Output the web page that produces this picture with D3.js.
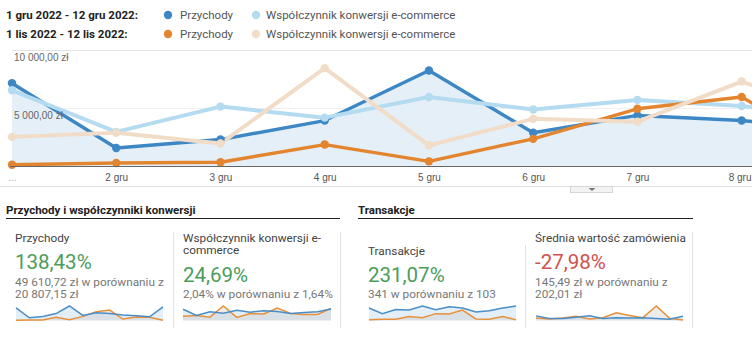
<!DOCTYPE html>
<html>
<head>
<meta charset="utf-8">
<script src="https://cdn.jsdelivr.net/npm/d3@7"></script>
<style>
  html, body { margin: 0; padding: 0; background: #fff; }
  svg { display: block; font-family: Roboto, "Liberation Sans", Arial, sans-serif; }
</style>
</head>
<body>
<svg id="chart" width="752" height="339"></svg>
<script>
// Daily values, 1–12 of the month
const dayLabels = ["...", "2 gru", "3 gru", "4 gru", "5 gru", "6 gru", "7 gru", "8 gru", "9 gru", "10 gru", "11 gru", "12 gru"];

// Revenue (zł)
const revenueDec = [7100, 1550, 2270, 3900, 8200, 2850, 4340, 3900, 3100, 2620, 2080, 7700];
const revenueNov = [110, 260, 320, 1840, 400, 2330, 4910, 5920, 800, 2000, 1800, 120];

// E-commerce conversion rate (%)
const convDec = [2.60, 1.17, 2.04, 1.66, 2.37, 1.94, 2.27, 2.06, 1.64, 1.87, 2.03, 2.66];
const convNov = [1.00, 1.14, 0.77, 3.36, 0.71, 1.62, 1.52, 2.90, 1.64, 1.41, 1.41, 2.81];

// Transactions
const transDec = [31, 17, 27, 26, 36, 27, 34, 31, 21, 24, 31, 36];
const transNov = [2, 3, 3, 10, 7, 17, 16, 26, 4, 3, 10, 2];

// Average order value (zł)
const aovDec = [230, 100, 100, 160, 230, 105, 135, 130, 140, 105, 60, 215];
const aovNov = [120, 75, 120, 210, 70, 135, 380, 250, 140, 720, 110, 20];

// Y axis ticks (left axis, revenue)
const revenueTicks = [5000, 10000];
const revenueTickLabels = ["5 000,00 zł", "10 000,00 zł"];

// Legend
const periodLabels = ["1 gru 2022 - 12 gru 2022:", "1 lis 2022 - 12 lis 2022:"];
const seriesNames = ["Przychody", "Współczynnik konwersji e-commerce"];

// Summary cards
const sectionTitles = ["Przychody i współczynniki konwersji", "Transakcje"];
const cardTitles = [["Przychody"], ["Współczynnik konwersji e-", "commerce"], ["Transakcje"], ["Średnia wartość zamówienia"]];
const cardChanges = ["138,43%", "24,69%", "231,07%", "-27,98%"];
const cardDetails = [["49 610,72 zł w porównaniu z", "20 807,15 zł"], ["2,04% w porównaniu z 1,64%"], ["341 w porównaniu z 103"], ["145,49 zł w porównaniu z", "202,01 zł"]];
const cardSeries = [[revenueDec, revenueNov], [convDec, convNov], [transDec, transNov], [aovDec, aovNov]];

const W = 752;
const C = {
  blue: "#3d87c4",
  lightBlue: "#b4dbf0",
  orange: "#e3852f",
  beige: "#f1dcc7",
  fill: "#e4eff8",
  green: "#4a9d5b",
  red: "#d2504f"
};

const svg = d3.select("#chart");
const idx = d3.range(dayLabels.length);

// ---------- Legend ----------
const legend = svg.append("g");
const legendColors = [[C.blue, C.lightBlue], [C.orange, C.beige]];
[15, 34].forEach((cy, r) => {
  legend.append("text").attr("x", 6).attr("y", cy + 4.2)
    .attr("font-size", 11.5).attr("font-weight", 700).attr("fill", "#222")
    .text(periodLabels[r]);
  [[168, 180], [256, 266]].forEach(([dx, tx], s) => {
    legend.append("circle").attr("cx", dx).attr("cy", cy).attr("r", 4.2).attr("fill", legendColors[r][s]);
    legend.append("text").attr("x", tx).attr("y", cy + 4.2)
      .attr("font-size", 11.5).attr("fill", "#555").text(seriesNames[s]);
  });
});

// ---------- Main chart ----------
const x = d3.scalePoint().domain(idx).range([12, 12 + 104.24 * (idx.length - 1)]);
const yRev = d3.scaleLinear().domain([0, 10000]).range([166, 49.5]);
const yConv = d3.scaleLinear().domain([0, 4]).range([166, 49.5]);

svg.append("clipPath").attr("id", "plotClip")
  .append("rect").attr("x", 0).attr("y", 40).attr("width", W).attr("height", 140);

const plot = svg.append("g").attr("clip-path", "url(#plotClip)");

// gridlines
plot.selectAll("line.grid").data(revenueTicks).join("line")
  .attr("x1", 12).attr("x2", W)
  .attr("y1", d => Math.round(yRev(d)) + 0.5).attr("y2", d => Math.round(yRev(d)) + 0.5)
  .attr("stroke", d => d === 10000 ? "#e3e3e3" : "#f0f0f0").attr("stroke-width", 1);

// area under current-period revenue
plot.append("path").datum(revenueDec)
  .attr("d", d3.area().x((d, i) => x(i)).y0(yRev(0)).y1(d => yRev(d)))
  .attr("fill", C.fill);

// axis: only days whose position falls inside the visible width get a label
const visibleDays = idx.filter(i => x(i) < W);
const xAxis = d3.axisBottom(x).tickSize(0).tickValues(visibleDays).tickFormat(i => dayLabels[i]);
const axisG = svg.append("g").attr("transform", `translate(0,${yRev(0)})`).call(xAxis);
axisG.select(".domain").attr("d", `M10,0.5H${W}`).attr("stroke", "#666");
axisG.selectAll(".tick text").attr("dy", 0).attr("y", 15)
  .attr("font-family", "'Liberation Sans', Arial, sans-serif")
  .attr("font-size", 10).attr("fill", "#555");
axisG.selectAll(".tick").filter(i => i === 0).select("text").attr("fill", "#aaa");
// keep labels near the right edge inside the view
axisG.selectAll(".tick text").each(function (i) {
  const half = this.getComputedTextLength() / 2;
  const over = x(i) + half - (W - 1);
  if (over > 0) d3.select(this).attr("x", -over);
});

// y labels
svg.selectAll("text.ylab").data(revenueTicks).join("text")
  .attr("x", 14).attr("y", d => yRev(d) + 11.5)
  .attr("font-family", "'Liberation Sans', Arial, sans-serif")
  .attr("font-size", 10).attr("fill", "#666")
  .text((d, i) => revenueTickLabels[i]);

const series = [
  { data: revenueDec, y: yRev, color: C.blue, w: 3.4 },
  { data: convDec, y: yConv, color: C.lightBlue, w: 4 },
  { data: revenueNov, y: yRev, color: C.orange, w: 3.4 },
  { data: convNov, y: yConv, color: C.beige, w: 4 }
];

series.forEach(s => {
  plot.append("path").datum(s.data)
    .attr("d", d3.line().x((d, i) => x(i)).y(d => s.y(d)))
    .attr("fill", "none").attr("stroke", s.color).attr("stroke-width", s.w)
    .attr("stroke-linejoin", "round");
});
series.forEach(s => {
  plot.selectAll(null).data(s.data).join("circle")
    .attr("cx", (d, i) => x(i)).attr("cy", d => s.y(d)).attr("r", 4.2)
    .attr("fill", s.color);
});

// separator with collapse tab
svg.append("line").attr("x1", 0).attr("x2", W).attr("y1", 186.5).attr("y2", 186.5).attr("stroke", "#e0e0e0");
svg.append("rect").attr("x", 570.5).attr("y", 186.5).attr("width", 42).attr("height", 6)
  .attr("fill", "#f3f3f3").attr("stroke", "#d6d6d6");
svg.append("path").attr("d", "M588.5,188 L595.5,188 L592,191 Z").attr("fill", "#777");

// ---------- Summary sections ----------
const sections = [{ x0: 6, x1: 340 }, { x0: 358, x1: 693 }];
sections.forEach((s, i) => {
  svg.append("text").attr("x", s.x0).attr("y", 214.3)
    .attr("font-size", 11.5).attr("font-weight", 700).attr("fill", "#222")
    .text(sectionTitles[i]);
  svg.append("line").attr("x1", s.x0).attr("x2", s.x1).attr("y1", 218.5).attr("y2", 218.5)
    .attr("stroke", "#222").attr("stroke-width", 1);
});

// dividers between cards
[[173, 232], [340, 232], [525, 245], [692, 232]].forEach(([dx, y0]) => {
  svg.append("line").attr("x1", dx + 0.5).attr("x2", dx + 0.5).attr("y1", y0).attr("y2", 328)
    .attr("stroke", "#e2e2e2");
});

const cards = [
  { x: 15, titleY: 241.7, numY: 269, detailY: 285.7, spark: [16, 163] },
  { x: 183, titleY: 241.7, numY: 282.3, detailY: 297.7, spark: [183, 331] },
  { x: 368, titleY: 255, numY: 282.3, detailY: 297.7, spark: [369, 516] },
  { x: 535, titleY: 241.7, numY: 269, detailY: 285.7, spark: [536, 683] }
];

cards.forEach((c, k) => {
  const g = svg.append("g");
  cardTitles[k].forEach((t, j) => {
    g.append("text").attr("x", c.x).attr("y", c.titleY + j * 12.6)
      .attr("font-size", 11.8).attr("fill", "#444").text(t);
  });
  g.append("text").attr("x", c.x).attr("y", c.numY)
    .attr("font-size", 20.5).attr("fill", cardChanges[k].startsWith("-") ? C.red : C.green)
    .text(cardChanges[k]);
  cardDetails[k].forEach((t, j) => {
    g.append("text").attr("x", c.x).attr("y", c.detailY + j * 12.6)
      .attr("font-size", 11.8).attr("fill", "#777").text(t);
  });

  // sparkline
  const [cur, prev] = cardSeries[k];
  const sx = d3.scalePoint().domain(idx).range(c.spark);
  const sy = d3.scaleLinear().domain([0, d3.max(cur.concat(prev))]).range([320.5, 306]);
  const area = d3.area().x((d, i) => sx(i)).y0(sy(0)).y1(d => sy(d));
  const line = d3.line().x((d, i) => sx(i)).y(d => sy(d));
  g.append("path").datum(cur).attr("d", area).attr("fill", "#e2eef8");
  g.append("path").datum(prev).attr("d", area).attr("fill", "rgba(200,200,200,0.35)");
  g.append("path").datum(prev).attr("d", line).attr("fill", "none").attr("stroke", "#e8903a").attr("stroke-width", 1.5);
  g.append("path").datum(cur).attr("d", line).attr("fill", "none").attr("stroke", "#4a8ec8").attr("stroke-width", 1.5);
});
</script>
</body>
</html>
